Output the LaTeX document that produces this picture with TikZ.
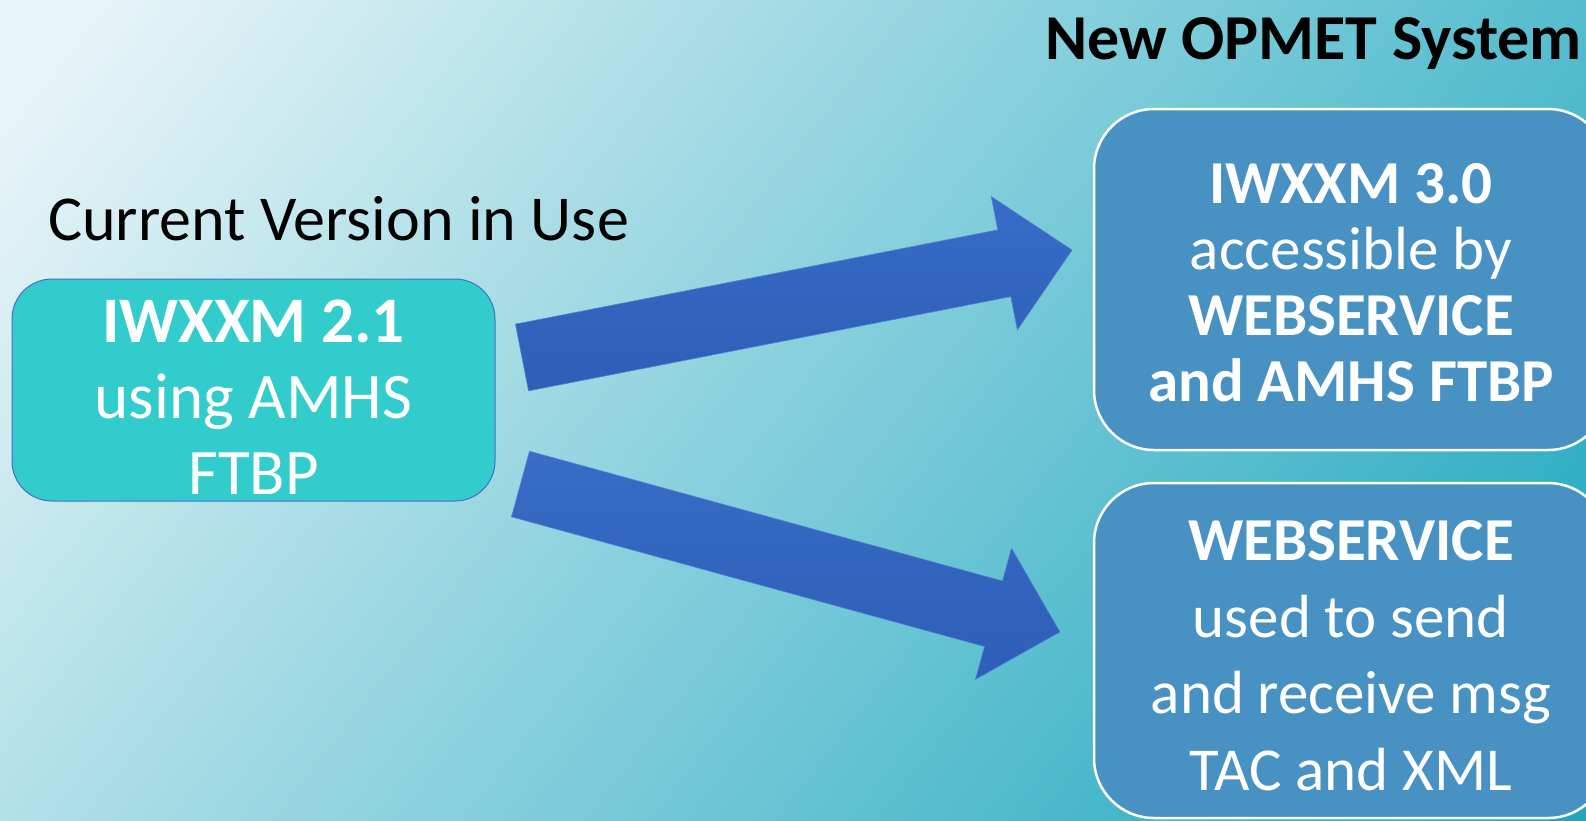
\documentclass[tikz,border=0pt]{standalone}
\usepackage{fontspec}
\setmainfont{Carlito}
\usetikzlibrary{calc}
\definecolor{bg0}{RGB}{36,162,186}
\definecolor{bg1}{RGB}{42,172,194}
\definecolor{bg2}{RGB}{232,245,248}
\pgfdeclareverticalshading{bgshade}{100bp}{color(0bp)=(bg0); color(12bp)=(bg0); color(21bp)=(bg1);
  color(82bp)=(bg2); color(100bp)=(bg2)}
\definecolor{tealbox}{RGB}{51,204,204}
\definecolor{tealedge}{RGB}{72,110,200}
\definecolor{bluebox}{RGB}{72,146,195}
\definecolor{arrowA}{RGB}{56,108,198}
\definecolor{arrowB}{RGB}{45,94,184}
\newcommand{\fatarrow}[3]{%
  \coordinate (#3b) at ($(#2)!69pt!(#1)$);
  \path[blockarrow] ($(#1)!34pt!90:(#2)$) -- ($(#3b)!34pt!90:(#2)$) -- ($(#3b)!68pt!90:(#2)$) -- (#2)
    -- ($(#3b)!68pt!-90:(#2)$) -- ($(#3b)!34pt!-90:(#2)$) -- ($(#1)!34pt!-90:(#2)$) -- cycle;}
\begin{document}
\begin{tikzpicture}[x=1pt,y=-1pt,
  lbox/.style={draw=tealedge, line width=1pt, fill=tealbox, rounded corners=40pt,
    minimum width=483pt, minimum height=222pt, inner sep=0pt},
  rbox/.style={draw=white, line width=2.5pt, fill=bluebox, rounded corners=60pt,
    minimum width=514pt, inner sep=0pt},
  boxtext/.style={align=center, text=white, inner sep=0pt},
  heading/.style={text=black, inner sep=0pt},
  blockarrow/.style={top color=arrowA, bottom color=arrowB, draw=arrowA!85!white, line width=0.6pt}]
\useasboundingbox (0,0) rectangle (1586,820);
\clip (0,0) rectangle (1586,820);
\shade[shading=bgshade, shading angle=52] (0,0) rectangle (1586,820);

\node[heading, anchor=base west, font={\fontsize{64}{76}\selectfont}] (lbl) at (48,240) {Current Version in Use};
\node[heading, anchor=base west, font={\fontsize{64}{76}\selectfont\bfseries}] (title) at (1045,59) {New OPMET System};

\node[lbox] (cur) at (253.5,390) {};
\node[boxtext, font={\fontsize{65}{76}\selectfont}] (curtxt) at ([yshift=-7pt]cur.center)
  {\textbf{IWXXM 2.1}\\using AMHS\\FTBP};

\node[rbox, minimum height=341pt] (new1) at (1351,279.5) {};
\node[boxtext, font={\fontsize{61}{66}\selectfont}] (new1txt) at ([yshift=-3pt]new1.center)
  {\textbf{IWXXM 3.0}\\accessible by\\\textbf{WEBSERVICE}\\\textbf{and AMHS FTBP}};
\node[rbox, minimum height=335pt] (new2) at (1351,650.5) {};
\node[boxtext, font={\fontsize{61}{76.5}\selectfont}] (new2txt) at ([yshift=-5pt]new2.center)
  {\textbf{WEBSERVICE}\\used to send\\and receive msg\\TAC and XML};

\coordinate (t1) at (522,357.5);
\coordinate (h1) at (1072,250);
\coordinate (t2) at (520.5,484);
\coordinate (h2) at (1060,632);
\fatarrow{t1}{h1}{a1}
\fatarrow{t2}{h2}{a2}
\end{tikzpicture}
\end{document}
